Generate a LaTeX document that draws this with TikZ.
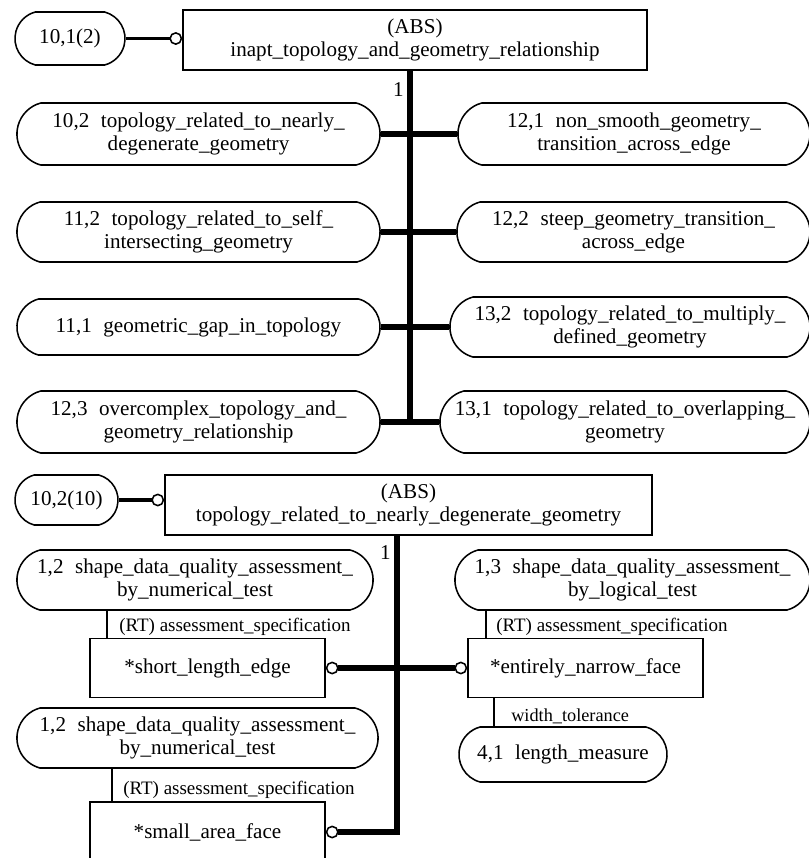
\documentclass[tikz,border=0pt]{standalone}
\usepackage{fontspec}
\setmainfont{Liberation Serif}
\usetikzlibrary{arrows.meta,shapes.misc}

\newcommand{\idgap}{\hspace{0.55em}}

\begin{document}
\begin{tikzpicture}[
  x=0.025cm,
  y=-0.025cm,
  every node/.style={
    font=\fontsize{15}{16.5}\selectfont,
    inner sep=0pt
  },
  oval/.style={
    draw,
    line width=1.1pt,
    rounded rectangle,
    rounded rectangle arc length=150,
    align=center,
    minimum height=1.5cm
  },
  entity/.style={
    draw,
    line width=1.1pt,
    rectangle,
    align=center,
    minimum height=1.5cm
  },
  rolelabel/.style={
    anchor=west,
    font=\fontsize{13.5}{15}\selectfont
  },
  bar/.style={line width=4.4pt},
  branch/.style={line width=4pt},
  link/.style={line width=1.1pt},
  ring/.style={-{Circle[open,length=3.2mm,width=3.2mm,line width=1.1pt,fill=white]}},
  tworing/.style={{Circle[open,length=3.2mm,width=3.2mm,line width=1.1pt,fill=white]}-{Circle[open,length=3.2mm,width=3.2mm,line width=1.1pt,fill=white]}}
]
\clip (0,0) rectangle (809,858);
\useasboundingbox (0,0) rectangle (809,858);

% Upper schema: inapt topology and geometry relationship.
\node[oval, minimum width=2.75cm, minimum height=1.325cm] (ref1) at (70,38.5) {10,1(2)};
\node[entity, minimum width=11.6cm] (abs1) at (415,40) {(ABS)\\inapt\_topology\_and\_geometry\_relationship};
\node[anchor=east] (one1) at (404,90) {1};

\node[oval, minimum width=9.075cm, minimum height=1.55cm] (left1) at (198.5,134) {10,2\idgap topology\_related\_to\_nearly\_\\degenerate\_geometry};
\node[oval, minimum width=9.075cm] (left2) at (198.5,232) {11,2\idgap topology\_related\_to\_self\_\\intersecting\_geometry};
\node[oval, minimum width=9.075cm, minimum height=1.4cm] (left3) at (198.5,327) {11,1\idgap geometric\_gap\_in\_topology};
\node[oval, minimum width=9.075cm, minimum height=1.55cm] (left4) at (198.5,422) {12,3\idgap overcomplex\_topology\_and\_\\geometry\_relationship};

\node[oval, minimum width=8.8cm, minimum height=1.55cm] (right1) at (634,134) {12,1\idgap non\_smooth\_geometry\_\\transition\_across\_edge};
\node[oval, minimum width=8.825cm] (right2) at (633.5,232) {12,2\idgap steep\_geometry\_transition\_\\across\_edge};
\node[oval, minimum width=9.0cm] (right3) at (630,327) {13,2\idgap topology\_related\_to\_multiply\_\\defined\_geometry};
\node[oval, minimum width=9.25cm, minimum height=1.55cm] (right4) at (625,422) {13,1\idgap topology\_related\_to\_overlapping\_\\geometry};

\coordinate (bend1) at (410,422);

\draw[line width=2.5pt, ring] (ref1.east) -- (ref1.east -| abs1.west);
\draw[bar] (bend1 |- abs1.south) -- (bend1);
\draw[branch] (left1.east) -- (right1.west);
\draw[branch] (left2.east) -- (right2.west);
\draw[branch] (left3.east) -- (right3.west);
\draw[branch] (left4.east) -- (right4.west);

% Lower schema: topology related to nearly degenerate geometry.
\node[oval, minimum width=2.575cm, minimum height=1.25cm] (ref2) at (66.5,500) {10,2(10)};
\node[entity, minimum width=12.175cm] (abs2) at (408.5,505) {(ABS)\\topology\_related\_to\_nearly\_degenerate\_geometry};
\node[anchor=east] (one2) at (391,553) {1};

\node[oval, minimum width=8.9cm] (numtest1) at (195,580) {1,2\idgap shape\_data\_quality\_assessment\_\\by\_numerical\_test};
\node[entity, minimum width=5.875cm, minimum height=1.475cm] (shortedge) at (207.5,668) {*short\_length\_edge};
\node[oval, minimum width=8.875cm] (logtest) at (632.5,580) {1,3\idgap shape\_data\_quality\_assessment\_\\by\_logical\_test};
\node[entity, minimum width=5.875cm, minimum height=1.475cm] (narrowface) at (585.5,668) {*entirely\_narrow\_face};
\node[oval, minimum width=5.2cm, minimum height=1.375cm] (lenmeasure) at (563,754.5) {4,1\idgap length\_measure};
\node[oval, minimum width=9.025cm] (numtest2) at (197.5,738) {1,2\idgap shape\_data\_quality\_assessment\_\\by\_numerical\_test};
\node[entity, minimum width=5.875cm] (smallface) at (207.5,832) {*small\_area\_face};

\node[rolelabel] (spec1) at (119,627) {(RT) assessment\_specification};
\node[rolelabel] (spec2) at (496,627) {(RT) assessment\_specification};
\node[rolelabel, font=\fontsize{13}{15}\selectfont] (widthtol) at (511,716) {width\_tolerance};
\node[rolelabel] (spec3) at (123,790) {(RT) assessment\_specification};

\coordinate (bend2) at (397,832);
\coordinate (rt1) at (107,620);
\coordinate (rt2) at (486,620);
\coordinate (wt) at (494,712);
\coordinate (rt3) at (112,785);

\draw[line width=2.5pt, ring] (ref2.east) -- (ref2.east -| abs2.west);
\draw[bar, ring] (bend2 |- abs2.south) -- (bend2) -- (bend2 -| smallface.east);
\draw[branch, tworing] (shortedge.east) -- (narrowface.west);

\draw[link] (numtest1.south -| rt1) -- (shortedge.north -| rt1);
\draw[link] (logtest.south -| rt2) -- (narrowface.north -| rt2);
\draw[link] (narrowface.south -| wt) -- (lenmeasure.north -| wt);
\draw[link] (numtest2.south -| rt3) -- (smallface.north -| rt3);

\end{tikzpicture}
\end{document}
